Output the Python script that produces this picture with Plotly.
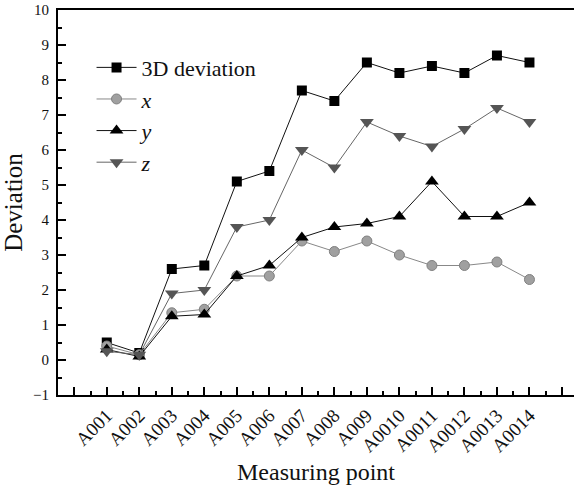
import plotly.graph_objects as go

categories = ["A001", "A002", "A003", "A004", "A005", "A006", "A007",
              "A008", "A009", "A0010", "A0011", "A0012", "A0013", "A0014"]
dev3d = [0.5, 0.2, 2.6, 2.7, 5.1, 5.4, 7.7, 7.4, 8.5, 8.2, 8.4, 8.2, 8.7, 8.5]
dev_x = [0.4, 0.15, 1.35, 1.45, 2.4, 2.4, 3.4, 3.1, 3.4, 3.0, 2.7, 2.7, 2.8, 2.3]
dev_y = [0.3, 0.1, 1.25, 1.3, 2.4, 2.7, 3.5, 3.8, 3.9, 4.1, 5.1, 4.1, 4.1, 4.5]
dev_z = [0.25, 0.15, 1.9, 2.0, 3.8, 4.0, 6.0, 5.5, 6.8, 6.4, 6.1, 6.6, 7.2, 6.8]
y_ticks = list(range(-1, 11))

idx = list(range(len(categories)))
FONT = "Liberation Serif, Times New Roman, serif"

fig = go.Figure()
fig.add_trace(go.Scatter(x=idx, y=dev3d, name="3D deviation", mode="lines+markers",
                         line=dict(color="#111111", width=1),
                         marker=dict(symbol="square", size=10, color="#000000")))
fig.add_trace(go.Scatter(x=idx, y=dev_x, name="<i>x</i>", mode="lines+markers",
                         line=dict(color="#888888", width=1),
                         marker=dict(symbol="circle", size=10, color="#a0a0a0",
                                     line=dict(color="#808080", width=1))))
fig.add_trace(go.Scatter(x=idx, y=dev_y, name="<i>y</i>", mode="lines+markers",
                         line=dict(color="#111111", width=1),
                         marker=dict(symbol="triangle-up", size=12, color="#000000")))
fig.add_trace(go.Scatter(x=idx, y=dev_z, name="<i>z</i>", mode="lines+markers",
                         line=dict(color="#666666", width=1),
                         marker=dict(symbol="triangle-down", size=12, color="#555555")))

xtickvals = list(range(-1, 15))
xticktext = [""] + categories + [""]

fig.update_layout(
    width=574, height=491,
    margin=dict(l=58, r=0, t=10, b=96),
    paper_bgcolor="white", plot_bgcolor="white",
    font=dict(family=FONT, color="#111111"),
    showlegend=True,
    legend=dict(x=0.065, y=0.905, xanchor="left", yanchor="top",
                bgcolor="rgba(0,0,0,0)", font=dict(size=22, family=FONT),
                itemwidth=40, tracegroupgap=0),
    xaxis=dict(range=[-1.5, 14.37], tickmode="array", tickvals=xtickvals,
               ticktext=xticktext, tickangle=-45, ticks="inside", ticklen=8,
               tickwidth=1.5, tickcolor="#000", showline=True, linecolor="#000",
               linewidth=2, mirror=True, showgrid=False, zeroline=False,
               tickfont=dict(size=19, family=FONT),
               minor=dict(tickmode="array", tickvals=[v + 0.5 for v in xtickvals],
                          ticks="inside", ticklen=4, tickcolor="#000", tickwidth=1.5),
               title=dict(text="Measuring point", font=dict(size=24, family=FONT),
                          standoff=8)),
    yaxis=dict(range=[-1, 10], tickmode="array", tickvals=y_ticks,
               ticktext=[("−1" if v < 0 else str(v)) for v in y_ticks],
               ticks="inside", ticklen=8, tickwidth=1.5, tickcolor="#000",
               showline=True, linecolor="#000", linewidth=2, mirror=False,
               showgrid=False, zeroline=False, ticklabelstandoff=4,
               tickfont=dict(size=15, family=FONT),
               minor=dict(tickmode="array", tickvals=[v + 0.5 for v in y_ticks[:-1]],
                          ticks="inside", ticklen=4, tickcolor="#000", tickwidth=1.5),
               title=dict(text="Deviation", font=dict(size=25, family=FONT),
                          standoff=6)),
)

fig.write_html("out.html")
